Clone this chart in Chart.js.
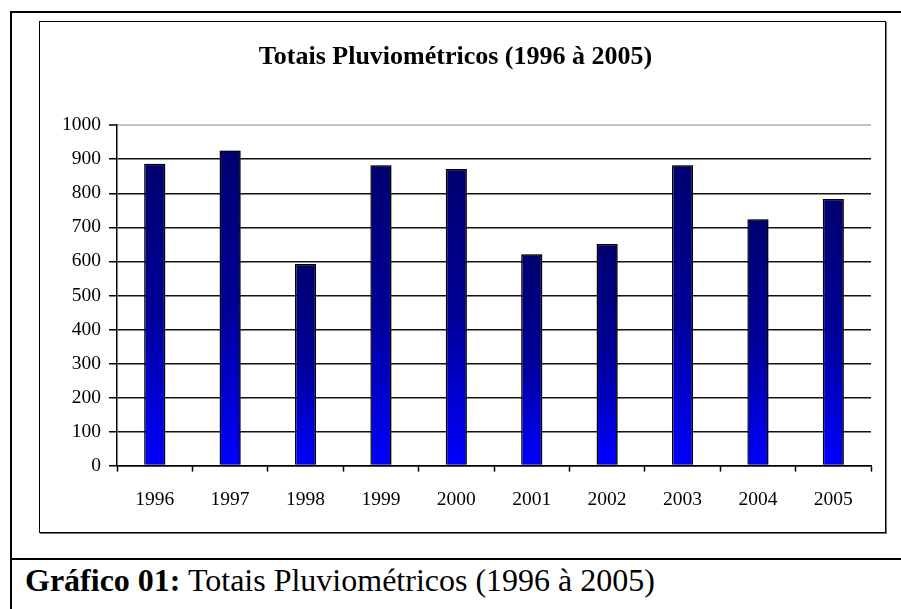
<!DOCTYPE html>
<html>
<head>
<meta charset="utf-8">
<script src="https://cdn.jsdelivr.net/npm/chart.js@4/dist/chart.umd.min.js"></script>
<style>
  html, body { margin: 0; padding: 0; width: 901px; height: 609px; overflow: hidden; background: #fff; }
  #frame { position: absolute; left: 10px; top: 11px; width: 1000px; height: 700px;
           border-left: 2px solid #000; border-top: 2px solid #000; }
  #divider { position: absolute; left: 10px; top: 558px; width: 1000px; height: 2px; background: #000; }
  #box { position: absolute; left: 39px; top: 21px; width: 845px; height: 510px;
         border: 1px solid #000; box-shadow: 1px 1px 0 #777; background: #fff; }
  #box canvas { display: block; }
  #caption { position: absolute; left: 25px; top: 562px; font-family: "Liberation Serif", serif;
             font-size: 32px; color: #000; white-space: nowrap; }
  #caption b { font-weight: bold; }
</style>
</head>
<body>
<div id="frame"></div>
<div id="divider"></div>
<div id="box"><canvas id="myChart" width="845" height="510"></canvas></div>
<div id="caption"><b>Gráfico 01:</b> Totais Pluviométricos (1996 à 2005)</div>
<script>
const years = ["1996", "1997", "1998", "1999", "2000", "2001", "2002", "2003", "2004", "2005"];
const totals = [887, 926, 592, 882, 871, 621, 651, 882, 724, 783];
const yTicks = [0, 100, 200, 300, 400, 500, 600, 700, 800, 900, 1000];

const serif = "'Liberation Serif', 'Times New Roman', serif";

// each bar gets its own navy -> blue gradient, top to bottom
function barFill(context) {
    const chart = context.chart;
    const scales = chart.scales;
    if (!chart.chartArea || !scales.y) return "#000080";
    const top = scales.y.getPixelForValue(context.raw);
    const bottom = scales.y.getPixelForValue(0);
    const g = chart.ctx.createLinearGradient(0, top, 0, bottom);
    g.addColorStop(0, "#000070");
    g.addColorStop(0.5, "#000098");
    g.addColorStop(1, "#0000ff");
    return g;
}

const barShadow = {
    id: "barShadow",
    beforeDatasetsDraw(chart) {
        const c = chart.ctx;
        c.save();
        c.shadowColor = "rgba(0,0,0,0.4)";
        c.shadowOffsetX = 2;
        c.shadowOffsetY = 0;
        c.shadowBlur = 0;
    },
    afterDatasetsDraw(chart) {
        chart.ctx.restore();
    }
};

new Chart("myChart", {
    type: "bar",
    data: {
        labels: years,
        datasets: [{
            data: totals,
            backgroundColor: barFill,
            borderColor: "#000",
            borderWidth: 1.5,
            borderSkipped: "bottom",
            barPercentage: 0.28,
            categoryPercentage: 1
        }]
    },
    plugins: [barShadow],
    options: {
        responsive: false,
        animation: false,
        devicePixelRatio: 1,
        layout: { padding: { left: 0, right: 14, top: 0, bottom: 3 } },
        plugins: {
            legend: { display: false },
            tooltip: { enabled: false },
            title: {
                display: true,
                text: "Totais Pluviométricos (1996 à 2005)",
                color: "#000",
                font: { family: serif, size: 26, weight: "bold" },
                padding: { top: 20, bottom: 52 }
            }
        },
        scales: {
            x: {
                grid: {
                    display: true,
                    drawOnChartArea: false,
                    drawTicks: true,
                    tickLength: 6,
                    tickColor: "#000",
                    tickWidth: 1.5,
                    offset: true
                },
                border: { display: true, color: "#000", width: 1.5 },
                ticks: { color: "#000", font: { family: serif, size: 19.5 }, padding: 17, maxRotation: 0 }
            },
            y: {
                min: 0,
                max: 1000,
                afterBuildTicks(scale) {
                    scale.ticks = yTicks.map(v => ({ value: v }));
                },
                afterFit(scale) { scale.width = 77; },
                grid: {
                    color: ctx => (ctx.tick && ctx.tick.value === 1000 ? "#c4c4c4" : "#111"),
                    lineWidth: ctx => (ctx.tick && ctx.tick.value === 1000 ? 2 : 1.5),
                    tickLength: 8,
                    tickColor: "#000",
                    tickWidth: 1.5
                },
                border: { display: true, color: "#000", width: 1.5 },
                ticks: {
                    color: "#000",
                    font: { family: serif, size: 19.5 },
                    padding: 8,
                    callback: v => String(v)
                }
            }
        }
    }
});
</script>
</body>
</html>
